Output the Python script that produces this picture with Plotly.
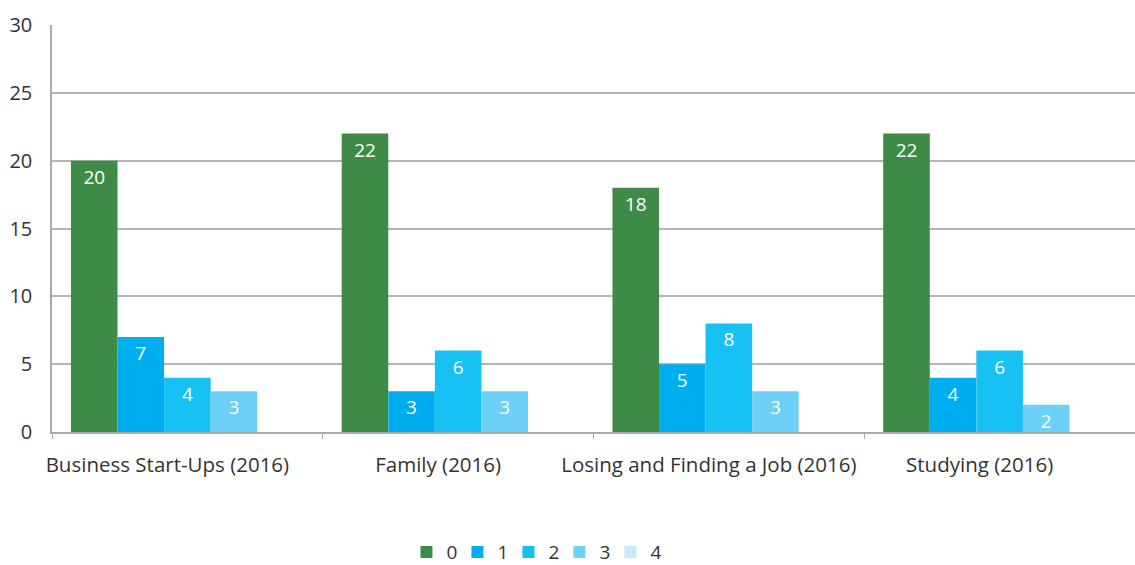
import plotly.graph_objects as go

categories = ["Business Start-Ups (2016)", "Family (2016)", "Losing and Finding a Job (2016)", "Studying (2016)"]
series_names = ["0", "1", "2", "3", "4"]
s0 = [20, 22, 18, 22]
s1 = [7, 3, 5, 4]
s2 = [4, 6, 8, 6]
s3 = [3, 3, 3, 2]
s4 = [0, 0, 0, 0]
values = [s0, s1, s2, s3, s4]
colors = ["#3d8b45", "#00aeef", "#18c1f3", "#6dd0f6", "#c6eafa"]
y_ticks = [0, 5, 10, 15, 20, 25, 30]

font_family = "Open Sans, Noto Sans, sans-serif"

fig = go.Figure()
for name, vals, col in zip(series_names, values, colors):
    fig.add_trace(go.Bar(
        x=categories, y=vals, name=name,
        marker=dict(color=col, line=dict(width=0)),
        text=[str(v) if v else "" for v in vals],
        textposition="inside", insidetextanchor="end",
        textfont=dict(color="white", size=19, family=font_family),
        textangle=0,
        hoverinfo="skip",
    ))

fig.update_layout(
    width=1135, height=565,
    margin=dict(l=52, r=0, t=25, b=133, autoexpand=False),
    paper_bgcolor="white", plot_bgcolor="white",
    barmode="group", bargap=0.14, bargroupgap=0,
    font=dict(family=font_family, size=20, color="#333333"),
    uniformtext=dict(mode="show", minsize=19),
    showlegend=True,
    legend=dict(orientation="h", x=0.445, xanchor="center", y=-0.342, yanchor="bottom",
                font=dict(size=19, color="#333333"), itemwidth=30,
                entrywidth=6, entrywidthmode="pixels",
                traceorder="normal"),
    xaxis=dict(
        showline=True, linecolor="#aaaaaa", linewidth=1.5,
        ticks="outside", tickson="boundaries", ticklen=5, tickcolor="#aaaaaa",
        tickfont=dict(size=20.5, color="#333333"), tickangle=0, automargin=False,
        ticklabelshift=-20, ticklabelstandoff=14,
        showgrid=False,
    ),
    yaxis=dict(
        range=[0, 30], tickvals=y_ticks,
        showline=True, linecolor="#aaaaaa", linewidth=1.5,
        showgrid=True, gridcolor="#b5b5b5", gridwidth=1.5,
        zeroline=False, automargin=False,
        tickfont=dict(size=20, color="#333333"),
        ticks="", ticklabelstandoff=14,
    ),
)

fig.write_html("out.html", config={"displayModeBar": False},
               post_script="document.body.style.margin='0';")
